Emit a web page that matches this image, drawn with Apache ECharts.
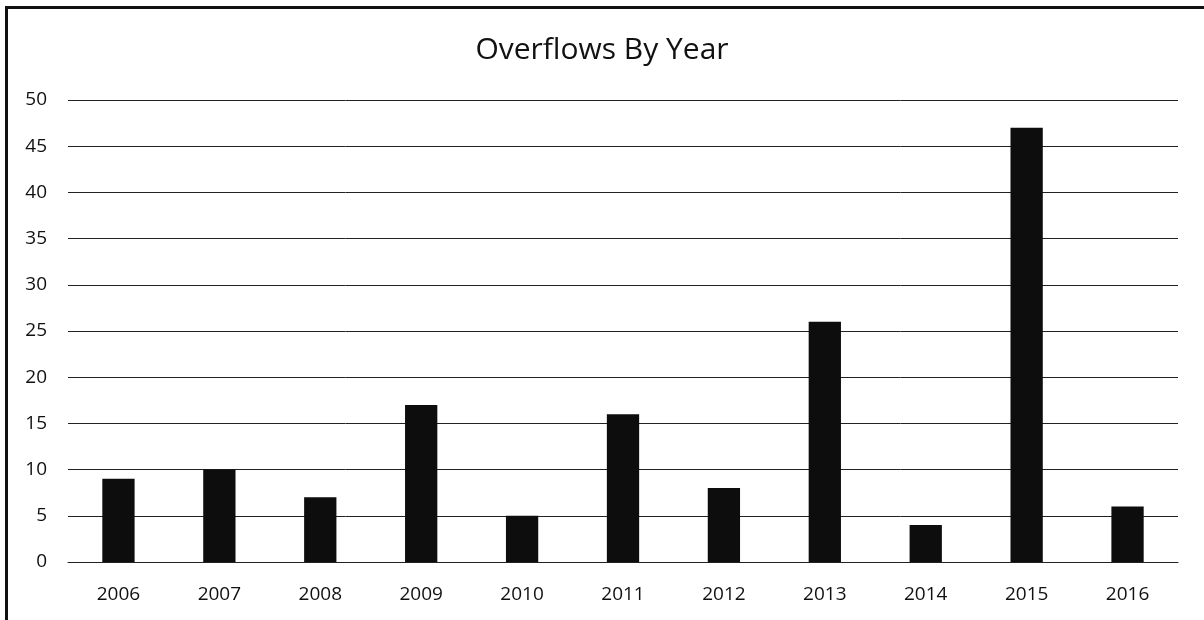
<!DOCTYPE html>
<html>
<head>
<meta charset="utf-8">
<script src="https://cdn.jsdelivr.net/npm/echarts@6/dist/echarts.min.js"></script>
<style>
html,body{margin:0;padding:0;background:#fff;}
#chart{position:absolute;left:0;top:0;width:1204px;height:620px;}
#frame{position:absolute;left:5px;top:6px;right:0;bottom:0;border-top:3px solid #111;border-left:3px solid #111;pointer-events:none;}
</style>
</head>
<body>
<div id="chart"></div>
<div id="frame"></div>
<script>
const titleText = 'Overflows By Year';
const categories = ['2006','2007','2008','2009','2010','2011','2012','2013','2014','2015','2016'];
const overflows = [9, 10, 7, 17, 5, 16, 8, 26, 4, 47, 6];
const yMin = 0, yMax = 50, yStep = 5;

const chart = echarts.init(document.getElementById('chart'), null, {renderer:'canvas'});
chart.setOption({
  backgroundColor: '#fff',
  animation: false,
  title: {
    text: titleText,
    left: 'center',
    top: 30,
    textStyle: {fontFamily: 'Open Sans', fontSize: 30, fontWeight: 'normal', color: '#111'}
  },
  grid: {left: 68, right: 26, top: 100, bottom: 58, containLabel: false},
  xAxis: {
    type: 'category',
    data: categories,
    axisLine: {show: true, lineStyle: {color: '#222', width: 1}},
    axisTick: {show: false},
    axisLabel: {fontFamily: 'Open Sans', fontSize: 19, color: '#111', margin: 23}
  },
  yAxis: {
    type: 'value',
    min: yMin, max: yMax, interval: yStep,
    axisLine: {show: false},
    axisTick: {show: false},
    axisLabel: {fontFamily: 'Open Sans', fontSize: 19, color: '#111', margin: 21},
    splitLine: {show: true, lineStyle: {color: '#222', width: 1}}
  },
  series: [{
    type: 'bar',
    data: overflows,
    barWidth: '32%',
    itemStyle: {color: '#0d0d0d'}
  }]
});
</script>
</body>
</html>
